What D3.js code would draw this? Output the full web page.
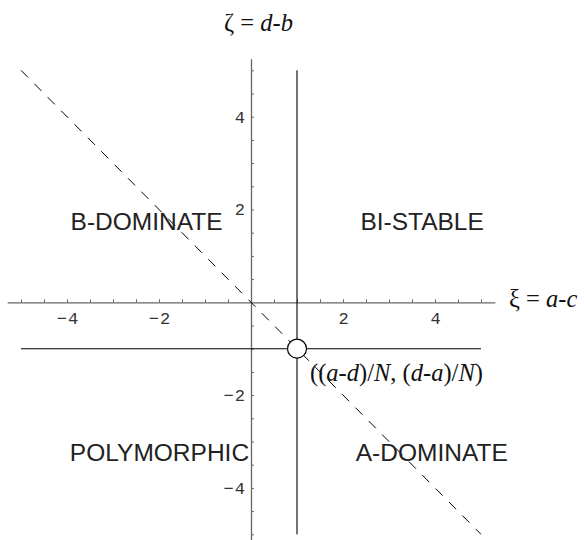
<!DOCTYPE html>
<html>
<head>
<meta charset="utf-8">
<script src="https://cdn.jsdelivr.net/npm/d3@7"></script>
<style>
  html, body { margin: 0; padding: 0; background: #fff; }
  svg { display: block; }
  .axis path, .axis line { stroke: #666; }
  .axis path { stroke-width: 1.3; }
  .axis text { font-family: "Liberation Mono", "DejaVu Sans Mono", monospace; font-size: 17px; fill: #333; }
  .region { font-family: "Liberation Sans", Arial, sans-serif; font-size: 24.5px; fill: #222; }
  .math { font-family: "Liberation Serif", "Times New Roman", serif; font-size: 24.5px; fill: #111; }
  .math .it { font-style: italic; }
</style>
</head>
<body>
<script>
// --- data ---
const xDomain = [-5.3, 5.3]
const yDomain = [-5.25, 5.25]
const xLabelTicks = [-4, -2, 2, 4]
const yLabelTicks = [-4, -2, 2, 4]
const minorTicks = d3.range(-5, 5.01, 0.5).filter((v) => v !== 0)
const xiThreshold = [1]          // vertical line xi = 1
const zetaThreshold = [-1]       // horizontal line zeta = -1
const lineExtent = [-5, 5]
const diagonal = [[-5, 5], [5, -5]]   // zeta = -xi
const fixedPoint = [[1, -1]]
const regionNames = ['B-DOMINATE', 'BI-STABLE', 'POLYMORPHIC', 'A-DOMINATE']
const regionAnchors = [[-2.27, 1.56], [3.72, 1.56], [-1.99, -3.42], [3.93, -3.42]]

const width = 584
const height = 540

const x = d3.scaleLinear().domain(xDomain).range([7.2, 494.8])
const y = d3.scaleLinear().domain(yDomain).range([545.9, 58.7])

const svg = d3.select('body').append('svg')
  .attr('width', width)
  .attr('height', height)

const fmt = (d) => (d < 0 ? '\u2212' + Math.abs(d) : String(d))

// X axis (ticks point up into the plot)
svg.append('g')
  .attr('class', 'axis')
  .attr('transform', `translate(0,${y(0)})`)
  .call(d3.axisBottom(x).tickValues(minorTicks).tickSize(-3).tickSizeOuter(0).tickFormat(''))
svg.append('g')
  .attr('class', 'axis')
  .attr('transform', `translate(0,${y(0)})`)
  .call(d3.axisBottom(x).tickValues(xLabelTicks).tickSize(0).tickPadding(10).tickFormat(fmt))
  .call((g) => g.select('.domain').remove())
  .selectAll('text').attr('letter-spacing', 1).attr('dx', 0.5)

// Y axis (ticks point right)
svg.append('g')
  .attr('class', 'axis')
  .attr('transform', `translate(${x(0)},0)`)
  .call(d3.axisLeft(y).tickValues(minorTicks).tickSize(-3).tickSizeOuter(0).tickFormat(''))
svg.append('g')
  .attr('class', 'axis')
  .attr('transform', `translate(${x(0)},0)`)
  .call(d3.axisLeft(y).tickValues(yLabelTicks).tickSize(0).tickPadding(5).tickFormat(fmt))
  .call((g) => g.select('.domain').remove())
  .selectAll('text').attr('letter-spacing', 1)

// threshold lines
svg.selectAll('.vline')
  .data(xiThreshold)
  .join('line')
  .attr('x1', (d) => x(d)).attr('x2', (d) => x(d))
  .attr('y1', y(lineExtent[1])).attr('y2', y(lineExtent[0]))
  .attr('stroke', '#000').attr('stroke-width', 1.1)

svg.selectAll('.hline')
  .data(zetaThreshold)
  .join('line')
  .attr('y1', (d) => y(d)).attr('y2', (d) => y(d))
  .attr('x1', x(lineExtent[0])).attr('x2', x(lineExtent[1]))
  .attr('stroke', '#000').attr('stroke-width', 1.1)

// dashed diagonal
svg.append('path')
  .datum(diagonal)
  .attr('d', d3.line().x((d) => x(d[0])).y((d) => y(d[1])))
  .attr('fill', 'none')
  .attr('stroke', '#000')
  .attr('stroke-width', 1)
  .attr('stroke-dasharray', '10,9')

// fixed point
svg.selectAll('.pt')
  .data(fixedPoint)
  .join('circle')
  .attr('cx', (d) => x(d[0]))
  .attr('cy', (d) => y(d[1]))
  .attr('r', 9.5)
  .attr('fill', '#fff')
  .attr('stroke', '#000')
  .attr('stroke-width', 1.2)

// region labels
svg.selectAll('.region')
  .data(regionNames)
  .join('text')
  .attr('class', 'region')
  .attr('x', (d, i) => x(regionAnchors[i][0]))
  .attr('y', (d, i) => y(regionAnchors[i][1]))
  .attr('text-anchor', 'middle')
  .text((d) => d)

// math labels: array of [text, italic?] pieces
function mathText(parts, px, py, anchor) {
  const t = svg.append('text').attr('class', 'math')
    .attr('x', px).attr('y', py).attr('text-anchor', anchor)
  parts.forEach(([s, it]) => {
    t.append('tspan').attr('class', it ? 'it' : null).text(s)
  })
  return t
}

mathText([['\u03B6 = ', false], ['d', true], ['-', false], ['b', true]], 258.5, 31, 'middle')
mathText([['\u03BE = ', false], ['a', true], ['-', false], ['c', true]], 509, 307, 'start')
mathText([
  ['((', false], ['a', true], ['-', false], ['d', true], [')/', false], ['N', true],
  [', (', false], ['d', true], ['-', false], ['a', true], [')/', false], ['N', true], [')', false]
], x(fixedPoint[0][0]) + 13, 381, 'start')
</script>
</body>
</html>
